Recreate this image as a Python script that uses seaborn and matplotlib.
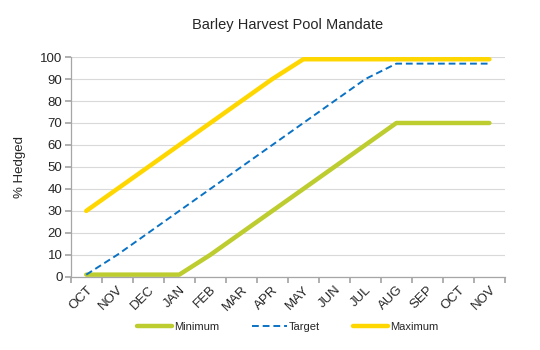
import matplotlib
matplotlib.use("Agg")
import matplotlib.pyplot as plt
import seaborn as sns
import pandas as pd
import numpy as np

months = ["OCT", "NOV", "DEC", "JAN", "FEB", "MAR", "APR", "MAY",
          "JUN", "JUL", "AUG", "SEP", "OCT", "NOV"]
minimum = [1, 1, 1, 1, 10, 20, 30, 40, 50, 60, 70, 70, 70, 70]
target = [1, 10, 20, 30, 40, 50, 60, 70, 80, 90, 97, 97, 97, 97]
maximum = [30, 40, 50, 60, 70, 80, 90, 99, 99, 99, 99, 99, 99, 99]

sns.set_theme(style="white")
plt.rcParams["font.family"] = ["Liberation Sans", "DejaVu Sans"]

pos = np.arange(len(months))
df = pd.DataFrame({"pos": pos, "Minimum": minimum, "Target": target, "Maximum": maximum})

fig = plt.figure(figsize=(5.4, 3.5), dpi=100)
ax = fig.add_axes([0.131, 0.209, 0.804, 0.628])

sns.lineplot(data=df, x="pos", y="Minimum", ax=ax, color="#BDCC2E", lw=3.2,
             label="Minimum", solid_capstyle="round")
sns.lineplot(data=df, x="pos", y="Target", ax=ax, color="#0A72C4", lw=1.4,
             label="Target", linestyle=(0, (3.5, 2)))
sns.lineplot(data=df, x="pos", y="Maximum", ax=ax, color="#FFD700", lw=3.2,
             label="Maximum", solid_capstyle="round")

ax.set_xlim(-0.5, len(months) - 0.5)
ax.set_ylim(0, 100)
ax.set_yticks(range(0, 101, 10))
ax.yaxis.grid(True, color="#D9D9D9", lw=0.8)
ax.set_axisbelow(True)

# category ticks sit between labels; labels sit at category centres
ax.set_xticks(np.arange(-0.5, len(months), 1.0))
ax.set_xticklabels([])
ax.set_xticks(pos, minor=True)
ax.set_xticklabels(months, minor=True, rotation=45, ha="right",
                   rotation_mode="anchor", fontsize=9.5)
ax.tick_params(axis="x", which="major", length=4, color="#A6A6A6", direction="out", bottom=True)
ax.tick_params(axis="x", which="minor", length=0, pad=5)
ax.tick_params(axis="y", length=4, color="#A6A6A6", direction="out", left=True,
               labelsize=9.5, pad=2)

for s in ["top", "right"]:
    ax.spines[s].set_visible(False)
for s in ["left", "bottom"]:
    ax.spines[s].set_color("#A6A6A6")
    ax.spines[s].set_linewidth(0.9)

ax.set_xlabel("")
ax.set_ylabel("% Hedged", fontsize=9.5, labelpad=10)
ax.set_title("Barley Harvest Pool Mandate", fontsize=10.5, pad=20)

ax.legend(loc="upper center", bbox_to_anchor=(0.5, -0.16), ncol=3, frameon=False,
          fontsize=8, handlelength=3.1, columnspacing=3.0, handletextpad=0.2)

fig.savefig("out.png", dpi=100)
